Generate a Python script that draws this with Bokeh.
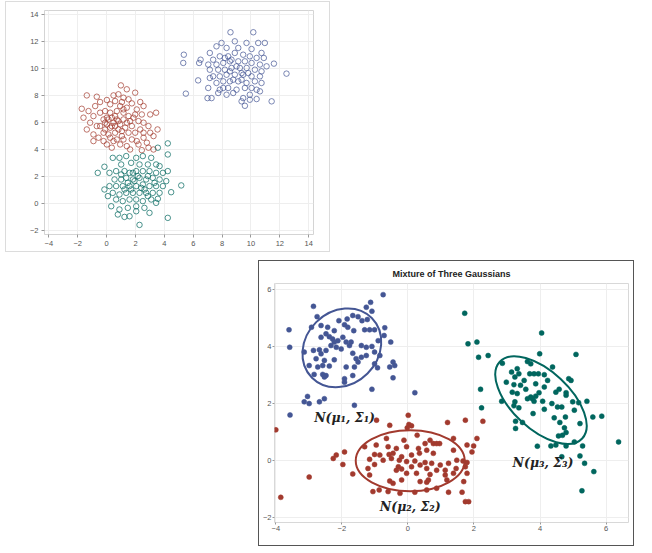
from bokeh.plotting import figure
from bokeh.models import FixedTicker, Spacer, Range1d
from bokeh.layouts import column, row
from bokeh.embed import file_html
from bokeh.resources import INLINE
from bokeh.core.properties import value

BLUE = "#445694"
RED = "#A23A2E"
GREEN = "#01665E"

# ---------------- top chart data (open circles) ----------------
top_red = [(0.99,8.76),(1.40,8.47),(-1.37,8.02),(-0.68,7.92),(0.48,8.02),(0.82,8.10),(1.17,7.85),
    (-1.72,7.03),(-1.25,6.86),(-1.60,6.37),(-0.79,7.23),(-0.45,7.53),(0.02,7.68),(0.25,7.36),
    (0.59,7.60),(1.06,7.53),(1.52,7.73),(1.75,7.43),(1.98,8.22),(2.33,7.53),(2.56,7.23),(2.09,6.98),
    (3.02,6.61),(3.43,6.74),(3.53,5.50),(3.25,5.01),(2.79,4.52),(2.44,3.97),(2.90,4.15),(3.25,4.02),
    (2.56,4.89),(2.09,4.64),(1.40,4.27),(1.63,4.02),(0.94,4.39),(0.48,4.64),(0.02,4.39),(-0.56,4.89),
    (-0.91,5.13),(-1.37,5.50),(-1.14,6.00),(-0.91,6.49),(-0.45,6.74),(-0.10,6.86),(0.25,6.74),
    (0.71,6.86),(1.17,6.74),(1.52,6.49),(1.86,6.37),(2.21,6.12),(2.56,6.00),(2.90,5.75),(2.33,5.50),
    (1.75,5.75),(1.29,5.63),(0.82,5.50),(0.36,5.75),(-0.10,6.00),(-0.45,5.75),(-0.21,5.26),
    (0.13,5.13),(0.59,5.26),(1.06,5.01),(1.52,5.26),(1.98,5.26),(1.17,6.99),(1.40,7.11),(0.94,7.23),
    (0.36,6.37),(0.71,6.24),(0.02,6.37),(1.17,6.24),(1.63,6.12),(1.98,6.61),(2.44,6.61),(0.48,6.00),
    (0.94,5.87),(1.40,6.00),(-0.10,5.50),(0.25,4.89),(0.71,4.76),(1.17,4.76),(1.75,4.76),(2.21,4.39),
    (0.36,4.15),(2.56,5.26),(3.02,5.26),(-0.21,4.64),(-0.68,5.75),(-0.91,4.64),(0.13,6.24),
    (0.59,6.49),(0.82,6.12),(0.25,5.63),(-0.21,6.24),(0.02,5.87),(1.06,5.38),(0.59,5.75)]

top_green = [(4.24,4.47),(3.55,4.15),(4.24,3.65),(-0.15,2.74),(-0.61,2.29),(0.43,3.40),(0.89,3.40),
    (1.36,3.53),(1.70,3.03),(2.05,3.40),(2.51,3.53),(3.09,3.40),(3.43,2.91),(3.67,2.79),(2.86,2.91),
    (2.28,2.91),(1.01,2.91),(0.66,2.42),(0.20,2.29),(1.24,2.42),(1.59,2.29),(2.05,2.42),(2.51,2.42),
    (2.97,2.42),(3.43,2.29),(3.90,2.29),(4.24,2.42),(0.55,1.80),(1.01,1.80),(1.36,1.92),(1.82,1.80),
    (2.28,1.92),(2.74,1.80),(3.20,1.92),(3.67,1.80),(4.13,1.68),(0.20,1.31),(0.66,1.31),(1.12,1.31),
    (1.59,1.31),(2.05,1.31),(2.51,1.43),(2.97,1.31),(3.43,1.31),(3.90,1.31),(5.17,1.36),(0.43,0.81),
    (0.89,0.69),(1.36,0.81),(1.82,0.81),(2.28,0.81),(2.74,0.81),(3.20,0.81),(3.67,0.81),(4.47,0.86),
    (0.66,0.32),(1.12,0.20),(1.59,0.32),(2.05,0.32),(2.51,0.20),(3.09,0.32),(3.55,0.37),(0.32,-0.18),
    (0.89,-0.42),(1.47,-0.30),(2.05,-0.18),(2.62,-0.30),(1.59,-0.92),(2.05,-0.55),(2.97,-0.67),
    (1.24,-0.97),(2.28,-1.56),(4.24,-1.04),(0.09,0.57),(-0.15,1.06),(1.82,2.29),(2.40,1.18),
    (2.63,1.06),(3.32,1.55),(1.70,1.06),(1.24,1.06),(2.86,0.57),(3.43,0.07),(1.93,1.68),(2.16,2.05),
    (1.47,1.55),(2.86,2.05),(1.01,2.17),(0.78,-0.79)]

top_blue = [(8.58,12.69),(10.16,12.69),(5.35,11.03),(5.31,10.42),(6.34,9.13),(5.49,8.15),(7.15,11.16),
    (6.51,10.66),(6.41,10.42),(7.96,11.90),(8.88,12.02),(9.69,11.90),(10.50,11.90),(10.96,11.90),
    (7.61,11.65),(8.31,11.53),(9.12,11.53),(10.04,11.45),(10.73,11.16),(10.89,10.79),(7.38,10.66),
    (7.84,10.91),(8.42,10.91),(8.88,11.16),(9.46,11.03),(9.92,10.91),(10.39,10.79),(11.59,10.37),
    (12.46,9.63),(7.04,10.30),(7.61,10.30),(8.08,10.42),(8.54,10.54),(9.12,10.54),(9.58,10.54),
    (10.04,10.42),(10.62,10.30),(11.08,10.17),(7.15,9.92),(7.73,9.92),(8.19,9.92),(8.65,10.05),
    (9.23,10.05),(9.70,10.05),(10.27,9.92),(10.73,9.80),(7.38,9.43),(7.84,9.43),(8.31,9.55),
    (8.88,9.55),(9.46,9.55),(10.04,9.43),(10.62,9.43),(7.61,8.94),(8.08,9.06),(8.54,9.06),(9.12,9.06),
    (9.69,8.94),(10.27,9.06),(10.73,8.94),(7.04,8.57),(7.84,8.44),(8.42,8.57),(9.00,8.44),(9.58,8.57),
    (10.39,8.44),(10.62,8.32),(7.73,8.20),(8.31,8.07),(8.77,8.20),(9.92,8.07),(6.99,7.82),(7.27,7.82),
    (9.46,7.82),(9.92,7.70),(10.39,7.75),(9.35,7.58),(9.58,7.25),(11.43,7.58),(7.15,9.31),
    (8.65,10.66),(9.00,10.17),(9.35,9.67),(8.77,9.18),(9.81,9.67),(8.19,10.79),(8.54,9.80),
    (10.04,8.57),(8.08,8.57),(9.35,9.18)]

top_xticks = [-4, -2, 0, 2, 4, 6, 8, 10, 12, 14]
top_yticks = [-2, 0, 2, 4, 6, 8, 10, 12, 14]

# ---------------- bottom chart data (filled dots) ----------------
bot_blue = [(-0.75,5.81),(-1.13,5.54),(-1.26,5.37),(-1.09,5.23),(-2.86,5.40),(-2.75,5.04),(-3.60,4.58),
    (-3.58,3.97),(-1.51,5.04),(-1.39,4.90),(-1.23,4.94),(-1.67,5.08),(-1.84,4.96),(-2.09,4.90),
    (-1.92,4.76),(-1.82,4.67),(-2.63,4.73),(-2.92,4.67),(-2.43,4.67),(-2.23,4.55),(-1.64,4.55),
    (-1.31,4.58),(-1.16,4.58),(-1.01,4.58),(-0.70,4.65),(-0.72,4.38),(-0.90,4.20),(-2.63,4.32),
    (-2.48,4.44),(-2.38,4.34),(-2.28,4.26),(-2.12,4.20),(-2.23,4.15),(-2.33,4.03),(-1.97,4.32),
    (-1.87,4.15),(-1.72,4.15),(-1.77,4.03),(-1.41,4.03),(-1.26,3.97),(-1.09,4.00),(-0.52,4.15),
    (-3.14,3.80),(-2.86,3.86),(-2.68,3.88),(-2.63,3.74),(-2.48,3.86),(-2.78,3.57),(-2.53,3.51),
    (-2.23,3.53),(-1.67,3.76),(-1.57,3.57),(-1.41,3.62),(-1.26,3.68),(-1.01,3.80),(-0.85,3.68),
    (-2.99,3.33),(-2.73,3.28),(-2.58,3.33),(-2.38,3.31),(-1.87,3.28),(-1.62,3.28),(-1.51,3.45),
    (-1.01,3.39),(-0.92,3.25),(-0.45,3.45),(-0.40,3.33),(-0.55,3.28),(-2.84,3.02),(-2.58,3.02),
    (-2.48,2.98),(-2.53,2.93),(-1.92,2.87),(-1.67,2.98),(-0.45,2.90),(-1.09,2.50),(-3.04,2.25),
    (-3.14,2.06),(-2.99,2.00),(-2.68,2.06),(-2.53,2.17),(-1.62,1.94),(-3.57,1.60),(0.21,2.38),
    (-1.92,2.75),(-2.17,3.97),(-2.02,3.91)]

bot_red = [(0.01,1.59),(-0.55,1.24),(0.03,1.27),(-0.02,1.15),(0.11,1.22),(1.20,1.34),(1.74,1.42),
    (-0.65,0.78),(-0.12,0.72),(0.28,0.89),(0.67,0.72),(0.52,0.60),(0.77,0.60),(0.87,0.60),(0.96,0.60),
    (1.38,0.78),(2.09,0.78),(1.79,0.55),(-1.31,0.49),(-0.96,0.55),(-0.60,0.49),(-0.35,0.43),
    (-0.04,0.49),(0.32,0.43),(0.57,0.37),(-1.01,0.22),(-0.85,0.20),(-0.57,0.22),(-0.45,0.26),
    (-0.19,0.14),(0.11,0.20),(0.35,0.26),(0.77,0.26),(1.38,0.37),(1.94,0.31),(-2.17,0.20),
    (-1.92,0.31),(-2.26,0.08),(-1.16,0.05),(-0.75,0.02),(-0.50,0.08),(-0.26,0.02),(-0.04,-0.03),
    (0.21,-0.01),(0.52,-0.06),(0.72,-0.09),(0.98,-0.15),(1.23,-0.09),(1.48,0.02),(1.67,-0.01),
    (1.79,-0.06),(-1.97,-0.13),(-1.21,-0.27),(-1.01,-0.13),(-0.29,-0.21),(-0.19,-0.29),(-0.35,-0.33),
    (0.11,-0.21),(0.37,-0.15),(0.57,-0.27),(0.87,-0.33),(1.13,-0.33),(1.46,-0.27),(1.74,-0.21),
    (-1.67,-0.46),(-1.16,-0.50),(-0.04,-0.44),(0.26,-0.44),(0.67,-0.48),(1.13,-0.50),(1.38,-0.44),
    (1.79,-0.44),(-0.55,-0.71),(-0.45,-0.79),(-0.19,-0.67),(0.37,-0.73),(0.57,-0.75),(0.62,-0.67),
    (1.18,-0.67),(1.69,-0.73),(-1.06,-1.08),(-0.87,-1.02),(-0.60,-1.08),(-0.24,-1.14),(0.21,-1.10),
    (0.57,-1.02),(0.87,-0.96),(1.23,-1.10),(1.64,-1.10),(1.74,-1.43),(1.84,-1.43),(-4.00,1.08),
    (-3.85,-1.28),(-2.99,-0.57),(2.27,1.38),(1.99,0.52),(-0.95,1.42)]

bot_green = [(1.72,5.16),(4.05,4.47),(1.82,4.09),(2.09,4.15),(2.14,3.62),(2.43,3.68),(3.99,3.74),
    (5.09,3.72),(2.86,3.41),(3.62,3.47),(3.72,3.39),(4.38,3.28),(3.14,3.10),(3.31,3.22),(3.36,3.04),
    (3.24,2.93),(3.52,2.81),(3.69,3.04),(3.82,3.04),(3.95,3.04),(4.13,3.01),(4.23,2.81),(4.94,2.81),
    (4.87,2.87),(2.98,2.75),(3.21,2.66),(3.41,2.64),(3.87,2.69),(4.13,2.58),(3.57,2.50),(2.20,2.50),
    (3.16,2.40),(3.31,2.35),(3.72,2.23),(3.77,2.17),(3.87,2.26),(3.97,2.38),(4.48,2.40),(4.79,2.38),
    (4.58,2.50),(4.79,2.29),(2.84,2.08),(3.24,2.06),(3.62,2.17),(3.82,2.08),(4.08,2.08),(4.36,2.00),
    (4.99,2.06),(5.17,2.03),(5.42,2.08),(3.21,1.92),(3.36,1.85),(4.13,1.80),(4.53,1.88),(4.66,1.88),
    (5.04,1.77),(2.23,1.85),(3.79,1.65),(4.43,1.50),(4.77,1.53),(5.21,1.30),(5.60,1.53),(5.87,1.56),
    (3.26,1.38),(3.47,1.34),(4.60,1.34),(3.26,1.13),(4.74,1.15),(4.79,0.99),(4.68,0.89),(4.56,0.87),
    (5.04,0.66),(3.92,0.51),(4.33,0.52),(4.48,0.55),(4.79,0.52),(5.29,0.52),(6.38,0.66),(4.66,0.14),
    (5.21,0.17),(5.35,-0.09),(5.63,-0.38),(5.27,-1.05)]

# ellipse parameters: center x, center y, width, height (data units), angle (radians)
ell_x = [-2.00, 0.07, 4.03]
ell_y = [3.95, 0.00, 2.12]
ell_w = [2.56, 3.30, 3.41]
ell_h = [2.54, 2.13, 2.02]
ell_angle = [0.785, 0.0, -0.75]
ell_colors = [BLUE, RED, GREEN]

label_text = ["N(\u03bc\u2081, \u03a3\u2081)", "N(\u03bc\u2082, \u03a3\u2082)", "N(\u03bc\u2083, \u03a3\u2083)"]
label_x = [-2.84, -0.85, 3.17]
label_y = [1.53, -1.60, -0.07]

bot_xticks = [-4, -2, 0, 2, 4, 6]
bot_yticks = [-2, 0, 2, 4, 6]

FONT = "Liberation Sans"


def style(p, xt, yt, grid_color, outline_color, tick_out=3, standoff=3):
    p.xaxis.ticker = FixedTicker(ticks=xt)
    p.yaxis.ticker = FixedTicker(ticks=yt)
    for ax in (p.xaxis[0], p.yaxis[0]):
        ax.axis_line_color = None
        ax.major_tick_line_color = "#999999"
        ax.major_tick_out = tick_out
        ax.major_tick_in = 0
        ax.minor_tick_line_color = None
        ax.major_label_text_font = FONT
        ax.major_label_text_font_size = "7.5px"
        ax.major_label_text_color = "#555555"
        ax.major_label_standoff = standoff
    p.xgrid.grid_line_color = grid_color
    p.ygrid.grid_line_color = grid_color
    p.outline_line_color = outline_color
    p.outline_line_width = 1
    p.background_fill_color = "white"
    p.border_fill_color = "white"


# ---------------- top figure ----------------
top = figure(width=325, height=251, output_backend="svg", toolbar_location=None,
             x_range=Range1d(-4.3, 14.33), y_range=Range1d(-2.27, 14.3),
             min_border_left=38, min_border_right=18, min_border_top=8, min_border_bottom=19,
             styles={"border": "1px solid #dcdcdc"})
style(top, top_xticks, top_yticks, "#eeeeee", "#d4d4d4")
for pts, col in ((top_red, RED), (top_green, GREEN), (top_blue, BLUE)):
    top.scatter([q[0] for q in pts], [q[1] for q in pts], marker="circle", size=5.5,
                fill_color=None, line_color=col, line_alpha=0.7, line_width=1)

# ---------------- bottom figure ----------------
bot = figure(width=376, height=286, output_backend="svg", toolbar_location=None,
             x_range=Range1d(-4.04, 6.68), y_range=Range1d(-2.16, 6.2),
             min_border_left=12, min_border_right=7, min_border_top=21, min_border_bottom=25,
             title="Mixture of Three Gaussians",
             styles={"border": "1px solid #555555"})
bot.title.align = "center"
bot.title.text_font = FONT
bot.title.text_font_size = "9px"
bot.title.text_font_style = "bold"
bot.title.text_color = "#222222"
style(bot, bot_xticks, bot_yticks, "#eeeeee", "#d8d8d8", tick_out=2, standoff=1)
for pts, col in ((bot_blue, BLUE), (bot_red, RED), (bot_green, GREEN)):
    bot.scatter([q[0] for q in pts], [q[1] for q in pts], marker="circle", size=5,
                fill_color=col, line_color=col, line_width=0.5)
bot.ellipse(x=ell_x, y=ell_y, width=ell_w, height=ell_h, angle=ell_angle,
            fill_color=None, line_color=ell_colors, line_width=2)
bot.text(x=label_x, y=label_y, text=label_text, text_font=value("DejaVu Serif"),
         text_font_style="bold italic", text_font_size="12.5px", text_color="#222222",
         text_baseline="middle", text_align="left")

layout = column(
    Spacer(height=1),
    row(Spacer(width=5), top),
    Spacer(height=8),
    row(Spacer(width=258), bot),
)
open("out.html", "w").write(file_html(layout, INLINE))
